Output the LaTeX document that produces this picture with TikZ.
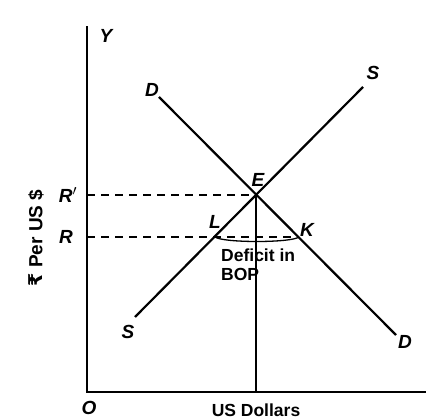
\documentclass[tikz,border=0pt]{standalone}
\usepackage{fontspec}
\setmainfont{Liberation Sans}
\newfontfamily\rupfont{DejaVu Sans}
\usetikzlibrary{calc}
\tikzset{
  ax/.style={line width=2.6pt, line cap=rect},
  crv/.style={line width=2.2pt},
  guia/.style={line width=2pt, dash pattern=on 8pt off 6pt},
  lbl/.style={font=\fontsize{19}{22}\selectfont\bfseries\itshape, inner sep=0pt},
  txt/.style={font=\fontsize{17.5}{19}\selectfont\bfseries, inner sep=0pt, align=left},
}
\begin{document}
\begin{tikzpicture}[x=1pt, y=-1pt]
  \useasboundingbox (0,0) rectangle (426,419);
  % points
  \coordinate (O) at (87,392);
  \coordinate (Ytop) at (87,27);
  \coordinate (Xend) at (426,392);
  \coordinate (D1) at (159,97);
  \coordinate (D2) at (396,335);
  \coordinate (S1) at (135,317);
  \coordinate (S2) at (363,87);
  \coordinate (E) at (256,195);
  \coordinate (L) at (215,237);
  \coordinate (K) at (299,237);
  \coordinate (Rp) at (87,195);
  \coordinate (R) at (87,237);
  \coordinate (Eb) at (256,392);
  % axes
  \draw[ax] (Ytop) -- (O) -- (Xend);
  % curves
  \draw[crv] (D1) -- (D2);
  \draw[crv] (S1) -- (S2);
  \draw[crv] (E) -- (Eb);
  \draw[guia] (Rp) -- (E);
  \draw[guia] (R) -- (K);
  \draw[line width=1.3pt] (L) .. controls +(8,6) and +(-8,6) .. (K);
  % labels
  \node[lbl] (ly) at (106,36) {Y};
  \node[lbl] (lo) at (89,408) {O};
  \node[lbl] (ld1) at (152,90) {D};
  \node[lbl] (ld2) at (405,342) {D};
  \node[lbl] (ls1) at (128,332) {S};
  \node[lbl] (ls2) at (373,73) {S};
  \node[lbl] (le) at (258,180) {E};
  \node[lbl] (ll) at (215,222) {L};
  \node[lbl] (lk) at (307,230) {K};
  \node[lbl] (lrp) at (68,195) {R$'$};
  \node[lbl] (lr) at (66,237) {R};
  \node[txt, anchor=north west] (def) at (221,249) {Deficit in\\BOP};
  \node[txt] (xlab) at (256,410) {US Dollars};
  \node[txt, font=\fontsize{19}{22}\selectfont\bfseries, rotate=90] (ylab) at (36,238) {{\rupfont ₹} Per US \$};
\end{tikzpicture}
\end{document}
